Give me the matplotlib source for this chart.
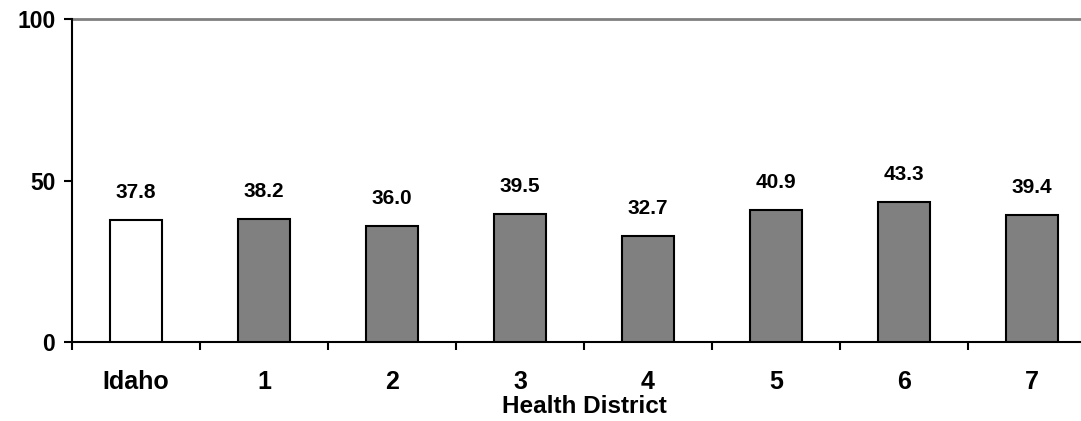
import matplotlib
matplotlib.use("Agg")
import matplotlib.pyplot as plt

categories = ["Idaho", "1", "2", "3", "4", "5", "6", "7"]
values = [37.8, 38.2, 36.0, 39.5, 32.7, 40.9, 43.3, 39.4]
colors = ["white", "#808080", "#808080", "#808080", "#808080", "#808080", "#808080", "#808080"]

plt.rcParams['font.family'] = ['Liberation Sans', 'DejaVu Sans']
plt.rcParams['font.weight'] = 'bold'

fig = plt.figure(figsize=(10.81, 4.21), dpi=100)
W, H = 1081, 421
ax = fig.add_axes([72 / W, (H - 342) / H, (1096 - 72) / W, (342 - 19) / H])

x = list(range(len(categories)))
bars = ax.bar(x, values, width=0.4, color=colors, edgecolor="black", linewidth=1.5, zorder=3)
for xi, v in zip(x, values):
    ax.annotate(f"{v:.1f}", (xi, v), xytext=(0, 13), textcoords="offset points",
                ha="center", va="bottom", fontsize=15, fontweight="bold")

ax.set_xlim(-0.5, len(categories) - 0.5)
ax.set_ylim(0, 100)
ax.set_yticks([0, 50, 100])
ax.set_yticklabels(["0", "50", "100"], fontsize=16.5, fontweight="bold")
ax.set_xticks(x)
ax.set_xticklabels(categories, fontsize=18, fontweight="bold")
ax.tick_params(axis="x", length=0, pad=20)
ax.set_xticks([i - 0.5 for i in range(len(categories) + 1)], minor=True)
ax.tick_params(axis="x", which="minor", length=6, width=1.5, direction="out")
ax.tick_params(axis="y", length=6, width=1.5, direction="out", pad=6)

ax.axhline(100, color="#808080", linewidth=2, zorder=1, clip_on=False)
ax.spines["top"].set_visible(False)
ax.spines["right"].set_visible(False)
ax.spines["left"].set_linewidth(1.5)
ax.spines["bottom"].set_linewidth(1.5)

ax.set_xlabel("Health District", fontsize=17.5, fontweight="bold", labelpad=1)

fig.savefig("out.png", dpi=100)
